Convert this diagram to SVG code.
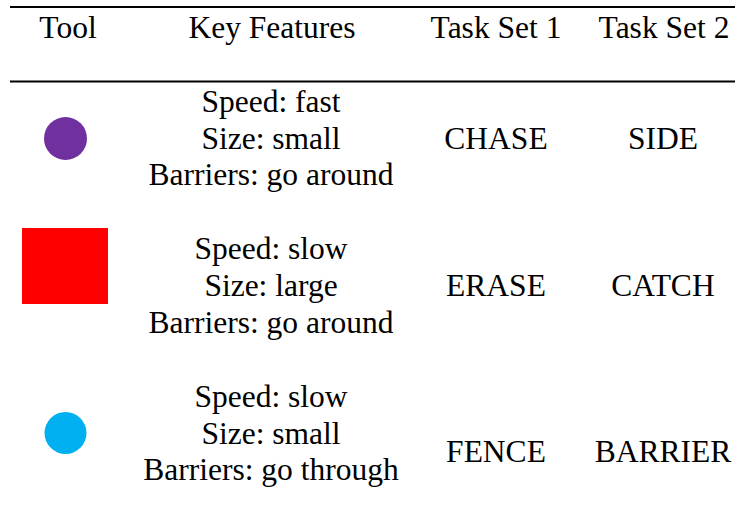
<svg xmlns="http://www.w3.org/2000/svg" width="735" height="522" viewBox="0 0 735 522">
<style>
text{font-size:31.5px;fill:#000;text-anchor:middle}
.rule{stroke:#000;stroke-width:2}
</style>
<rect width="735" height="522" fill="#fff"/>
<g id="rules">
<line class="rule" x1="10" y1="7" x2="735" y2="7"/>
<line class="rule" x1="10" y1="81.5" x2="735" y2="81.5"/>
</g>
<g font-family="'Liberation Serif', 'DejaVu Serif', serif">
<g id="header">
<text x="68" y="38">Tool</text>
<text x="272" y="38">Key Features</text>
<text x="496" y="38">Task Set 1</text>
<text x="664" y="38">Task Set 2</text>
</g>
<g id="row1">
<circle cx="65.5" cy="138.5" r="21.5" fill="#7030A0"/>
<text x="271" y="112">Speed: fast</text>
<text x="271" y="148.5">Size: small</text>
<text x="271" y="185">Barriers: go around</text>
<text x="496" y="149">CHASE</text>
<text x="663" y="149">SIDE</text>
</g>
<g id="row2">
<rect x="22" y="228" width="86" height="76" fill="#FF0000"/>
<text x="271" y="258.5">Speed: slow</text>
<text x="271" y="295.5">Size: large</text>
<text x="271" y="332.5">Barriers: go around</text>
<text x="496" y="296">ERASE</text>
<text x="663" y="296">CATCH</text>
</g>
<g id="row3">
<circle cx="65.5" cy="433" r="21" fill="#00B0F0"/>
<text x="271" y="407">Speed: slow</text>
<text x="271" y="443.5">Size: small</text>
<text x="271" y="480">Barriers: go through</text>
<text x="496" y="462">FENCE</text>
<text x="663" y="462">BARRIER</text>
</g>
</g>
</svg>
